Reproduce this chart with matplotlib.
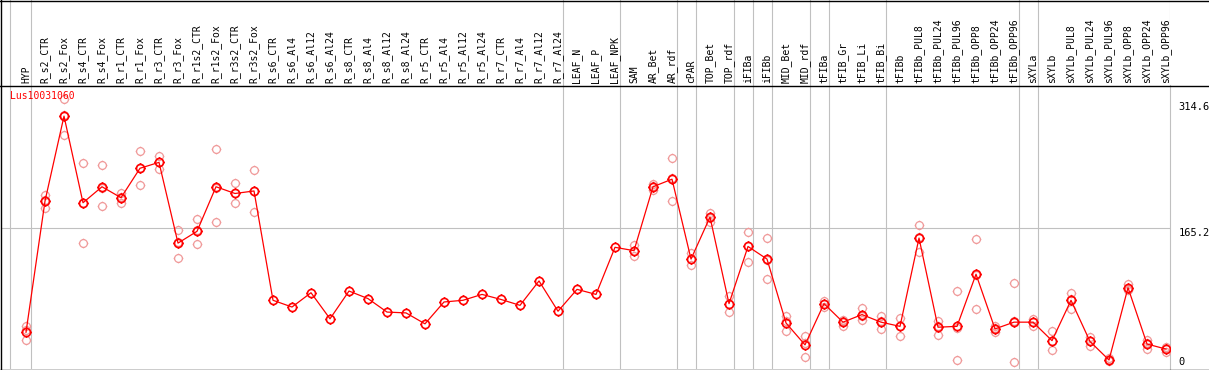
import numpy as np
import matplotlib.pyplot as plt
from matplotlib.path import Path
from matplotlib.lines import Line2D

# sample labels (header columns)
labels = ['HYP', 'R_s2_CTR', 'R_s2_Fox', 'R_s4_CTR', 'R_s4_Fox', 'R_r1_CTR', 'R_r1_Fox',
          'R_r3_CTR', 'R_r3_Fox', 'R_r1s2_CTR', 'R_r1s2_Fox', 'R_r3s2_CTR', 'R_r3s2_Fox',
          'R_s6_CTR', 'R_s6_Al4', 'R_s6_Al12', 'R_s6_Al24', 'R_s8_CTR', 'R_s8_Al4',
          'R_s8_Al12', 'R_s8_Al24', 'R_r5_CTR', 'R_r5_Al4', 'R_r5_Al12', 'R_r5_Al24',
          'R_r7_CTR', 'R_r7_Al4', 'R_r7_Al12', 'R_r7_Al24', 'LEAF_N', 'LEAF_P', 'LEAF_NPK',
          'SAM', 'AR_Bet', 'AR_rdf', 'cPAR', 'TOP_Bet', 'TOP_rdf', 'iFIBa', 'iFIBb',
          'MID_Bet', 'MID_rdf', 'tFIBa', 'tFIB_Gr', 'tFIB_Li', 'tFIB_Bi', 'tFIBb',
          'tFIBb_PUL8', 'tFIBb_PUL24', 'tFIBb_PUL96', 'tFIBb_OPP8', 'tFIBb_OPP24',
          'tFIBb_OPP96', 'sXYLa', 'sXYLb', 'sXYLb_PUL8', 'sXYLb_PUL24', 'sXYLb_PUL96',
          'sXYLb_OPP8', 'sXYLb_OPP24', 'sXYLb_OPP96']

# mean expression per sample
means = [41, 197, 298, 195, 214, 201, 236, 243, 147, 161, 214, 206, 209,
         79, 71, 88, 57, 90, 81, 65, 64, 51, 77, 79, 86, 80, 73, 102, 66, 92, 86, 142,
         138, 214, 223, 128, 178, 75, 143, 128, 52, 26, 75, 53, 62, 53, 48,
         153, 47, 48, 110, 45, 53, 53, 31, 79, 30, 8, 94, 27, 21]

nan = np.nan
# replicates (upper, lower, middle)
rep_a = [48, 204, 318, 242, 240, 206, 257, 251, 163, 176, 259, 218, 234] + [nan] * 19 + \
        [145, 217, 248, 135, 183, 84, 160, 153, 60, 37, 78, 56, 70, 60, 58,
         168, 54, 90, 152, 48, 99, 57, 43, 88, 35, 10, 98, 32, 23]
rep_b = [32, 189, 276, 147, 191, 195, 216, 235, 129, 146, 172, 195, 184] + [nan] * 19 + \
        [132, 210, 197, 121, 172, 65, 125, 104, 42, 12, 71, 49, 56, 45, 37,
         137, 38, 8, 69, 41, 6, 49, 20, 69, 25, 7, 91, 21, 18]
rep_c = [44, 198, 299, 195, 213, 202, 236, 244, 148, 163, 213, 206, 209] + [nan] * 19 + \
        [138, 215, 224, 128, 177, 74, 144, 127, 54, 28, 75, 54, 60, 54, 49,
         154, 49, 46, 109, 46, 54, 53, 31, 80, 30, 8, 93, 28, 22]

# group separators (after these columns)
sep_after = [-1, 0, 28, 31, 34, 35, 37, 38, 39, 41, 42, 45, 52, 53]

W, H = 1209, 370
fig = plt.figure(figsize=(W / 100, H / 100), dpi=100)
ax = fig.add_axes([1 / W, 1 / H, 1169 / W, 284 / H])
head = fig.add_axes([1 / W, 285 / H, 1169 / W, 85 / H], sharex=ax)

# circle with small ticks marker
circ = Path.unit_circle()
ticks = [Path([(0, 1), (0, 1.25)]), Path([(0, -1), (0, -1.25)]),
         Path([(1, 0), (1.25, 0)]), Path([(-1, 0), (-1.25, 0)])]
marker = Path.make_compound_path(circ, *ticks)

x = np.arange(len(labels))
grid_c = '#c0c0c0'
mono = 'DejaVu Sans Mono'

for r in (rep_a, rep_b, rep_c):
    ax.plot(x, r, linestyle='none', marker=marker, markersize=7, markerfacecolor='none',
            markeredgecolor='#f09a9a', markeredgewidth=0.9, zorder=3)
ax.plot(x, means, color='red', linewidth=0.9, zorder=4)
ax.plot(x, means, linestyle='none', marker=marker, markersize=7.3, markerfacecolor='none',
        markeredgecolor='red', markeredgewidth=1.2, zorder=5)

xs = [s + 0.16 if s == -1 else s + 0.24 for s in sep_after]
for s in xs:
    ax.axvline(s, color=grid_c, linewidth=0.8, zorder=1)
    head.axvline(s, color=grid_c, linewidth=0.8, zorder=1)
ax.axhline(165.2, color=grid_c, linewidth=0.8, zorder=1)

ax.set_xlim(-1.316, 60.21)
ax.set_ylim(-2.7, 335)
ax.set_xticks([])
ax.yaxis.tick_right()
ax.set_yticks([0, 165.2, 314.6], ['0', '165.2', '314.6'])
ax.tick_params(axis='y', length=0, pad=6, labelsize=7.5)
for lab in ax.get_yticklabels():
    lab.set_fontfamily(mono)
    lab.set_va('bottom' if lab.get_text() == '0' else 'top')
for sp in ['left', 'top', 'bottom']:
    ax.spines[sp].set_visible(False)
ax.spines['right'].set_color(grid_c)
ax.spines['right'].set_linewidth(0.8)

ax.text(0.0077, 0.978, 'Lus10031060', transform=ax.transAxes, color='red',
        fontsize=7, family=mono, va='top', ha='left')

head.set_ylim(0, 1)
head.axis('off')
head.axvline(60.21, color=grid_c, linewidth=0.8)
for i, lab in enumerate(labels):
    head.text(x[i], 0.025, lab, rotation=90, ha='center', va='bottom',
              fontsize=7, family=mono, color='black')

# frame lines
for yy in [0, 85, 369]:
    fig.add_artist(Line2D([0, 1], [1 - (yy + 0.5) / H] * 2, transform=fig.transFigure,
                          color='black', linewidth=1.0))
fig.add_artist(Line2D([0.5 / W] * 2, [0, 1], transform=fig.transFigure,
                      color='black', linewidth=1.0))

fig.savefig('out.png', dpi=100)
